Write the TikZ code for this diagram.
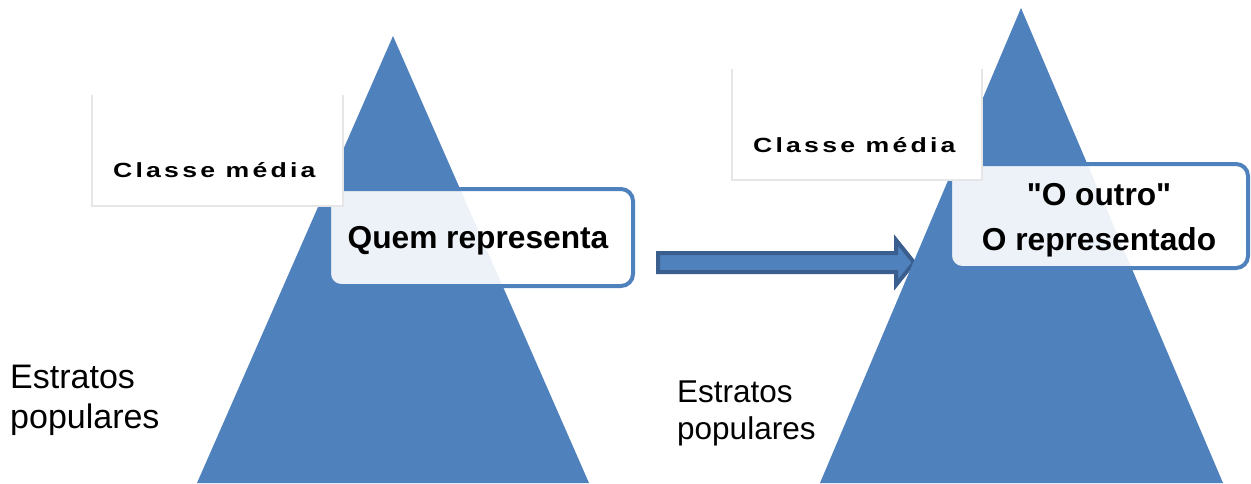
\documentclass[tikz,border=0pt]{standalone}
\usepackage{graphicx}
\usepackage{fontspec}
\setmainfont{Liberation Sans}[Ligatures=TeXOff]
\newfontfamily\classfont[LetterSpace=12]{Liberation Sans}
\newcommand\widetext[1]{\scalebox{1.3}[1]{#1}}
\definecolor{tri}{HTML}{4F81BD}
\definecolor{arrowedge}{HTML}{3A5F8E}
\definecolor{softedge}{HTML}{E6E6E6}
\begin{document}
\begin{tikzpicture}[x=1pt,y=-1pt,
  pyramid/.style={fill=tri,draw=none},
  classbox/.style={fill=white,draw=none},
  classedge/.style={draw=softedge,line width=1.2pt},
  roundbox/.style={rounded corners=12pt,draw=tri,line width=4pt,fill=white,fill opacity=0.9},
  boxtext/.style={inner sep=0pt,font=\fontsize{31.7}{45}\selectfont\bfseries,align=center},
  classtext/.style={inner sep=0pt,anchor=base west,font=\fontsize{20.5}{24}\classfont\bfseries},
  arrowshape/.style={fill=tri,draw=arrowedge,line width=4pt,line join=miter}
]
\useasboundingbox (0,0) rectangle (1251,483);
\fill[white] (0,0) rectangle (1251,483);

% left pyramid
\fill[pyramid] (393,36) -- (589,483) -- (197,483) -- cycle;
\draw[roundbox] (329,189) rectangle (633,286);
\node[boxtext,anchor=base] (quem) at (478,248) {Quem representa};
\fill[classbox] (92,95) rectangle (343,206);
\draw[classedge] (92,95) -- (92,206) -- (343,206) -- (343,95);
\node[classtext] (classeL) at (113,177) {\widetext{Classe média}};
\node[inner sep=0pt,anchor=base west,align=left,font=\fontsize{34}{40}\selectfont] (estratosL) at (10,428) {Estratos\\populares};

% arrow
\draw[arrowshape] (658,253) -- (896,253) -- (896,240) -- (914,262.5) -- (896,285) -- (896,272) -- (658,272) -- cycle;

% right pyramid
\fill[pyramid] (1021,8) -- (1223,483) -- (820,483) -- cycle;
\draw[roundbox] (950,164) rectangle (1248,268);
\node[boxtext,anchor=base] (outro) at (1099,250) {"O outro"\\O representado};
\fill[classbox] (732,69) rectangle (982,180);
\draw[classedge] (732,69) -- (732,180) -- (982,180) -- (982,69);
\node[classtext] (classeR) at (753,152) {\widetext{Classe média}};
\node[inner sep=0pt,anchor=base west,align=left,font=\fontsize{31.5}{37}\selectfont] (estratosR) at (677,439) {Estratos\\populares};
\end{tikzpicture}
\end{document}
